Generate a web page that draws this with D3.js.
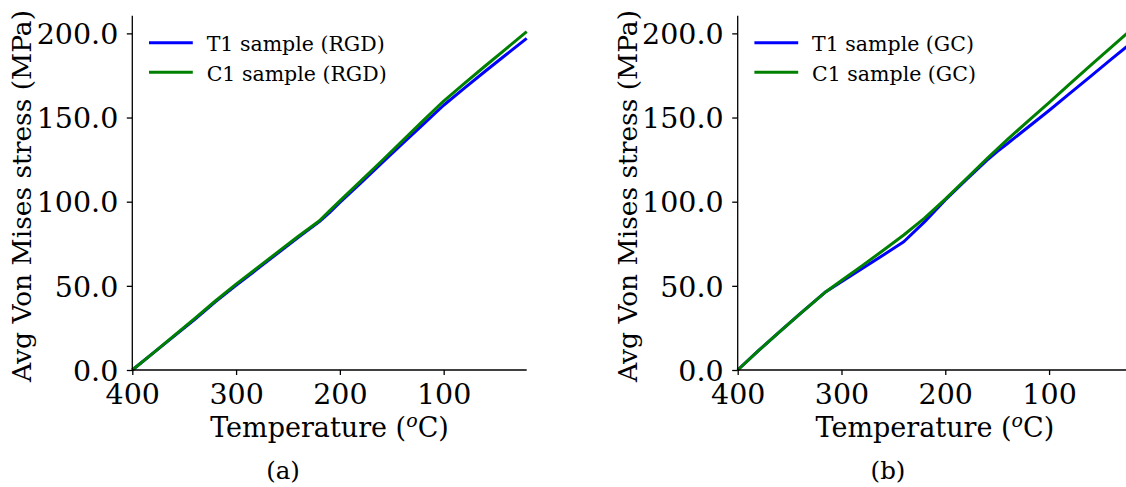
<!DOCTYPE html>
<html>
<head>
<meta charset="utf-8">
<script src="https://cdn.jsdelivr.net/npm/d3@7"></script>
<style>
  html, body { margin: 0; padding: 0; background: #fff; }
  svg { display: block; }
  text { font-family: "DejaVu Serif", serif; fill: #000; }
</style>
</head>
<body>
<svg id="chart" width="1126" height="487"></svg>
<script>
// Temperatures (°C) at which stresses were read
const tempsA = [400, 380, 360, 340, 320, 300, 280, 260, 240, 220, 210, 200, 180, 160, 140, 120, 100, 80, 60, 40, 20];
// Panel (a): RGD
const t1RGD = [0, 10, 20, 30, 40.5, 50.3, 59.8, 69.3, 78.8, 88, 93.5, 99.5, 111, 122.7, 134.3, 145.8, 157.3, 167.5, 177.5, 187.3, 197];
const c1RGD = [0, 10, 20.3, 30.5, 41, 51, 60.5, 70, 79.5, 88.5, 94.5, 100.5, 112.2, 124, 136, 148, 159.8, 170.3, 180.6, 190.8, 201];

const tempsB = [400, 380, 360, 340, 315, 300, 280, 260, 240, 220, 200, 180, 160, 150, 140, 120, 100, 80, 60, 40, 20];
// Panel (b): GC
const t1GC = [0, 11.5, 22.5, 33.3, 46.5, 52.4, 60.3, 68.2, 76.2, 88, 101, 113, 124.5, 129.8, 134.6, 144.4, 154.2, 164.3, 174.5, 184.7, 194.7];
const c1GC = [0, 11.5, 22.5, 33.3, 46.5, 53.2, 62, 71, 80.2, 90.2, 101.5, 113.5, 125.5, 131.3, 137, 148, 158.9, 170, 181, 191.8, 202.7];

const xTicks = [400, 300, 200, 100];
const yTicks = [0, 50, 100, 150, 200];
const xDomain = [400, 20];
const yDomain = [0, 210.5];

const panels = [
  { temps: tempsA, s1: t1RGD, s2: c1RGD, names: ["T1 sample (RGD)", "C1 sample (RGD)"], caption: "(a)", x0: 132.3, captionX: 283 },
  { temps: tempsB, s1: t1GC,  s2: c1GC,  names: ["T1 sample (GC)",  "C1 sample (GC)"],  caption: "(b)", x0: 737.7, captionX: 888 }
];
const colors = ["#0000ff", "#008000"];

const svg = d3.select("#chart");
const plotW = 394.4, yTop = 15.7, yBot = 370;

panels.forEach(p => {
  const g = svg.append("g");
  const x = d3.scaleLinear().domain(xDomain).range([p.x0, p.x0 + plotW]);
  const y = d3.scaleLinear().domain(yDomain).range([yBot, yTop]);

  // lines
  const line = d3.line().x(d => x(d[0])).y(d => y(d[1]));
  [p.s1, p.s2].forEach((s, i) => {
    g.append("path")
      .datum(p.temps.map((t, k) => [t, s[k]]))
      .attr("d", line)
      .attr("fill", "none")
      .attr("stroke", colors[i])
      .attr("stroke-width", 3)
      .attr("stroke-linejoin", "round");
  });

  // axes
  const xAxis = d3.axisBottom(x).tickValues(xTicks).tickFormat(d3.format("d")).tickSize(5).tickPadding(5);
  const yAxis = d3.axisLeft(y).tickValues(yTicks).tickFormat(d3.format(".1f")).tickSize(5.5).tickPadding(8.5);
  const gx = g.append("g").attr("transform", `translate(0,${yBot})`).call(xAxis);
  const gy = g.append("g").attr("transform", `translate(${p.x0},0)`).call(yAxis);
  [gx, gy].forEach(a => {
    a.select(".domain").attr("stroke", "#000").attr("stroke-width", 1.3);
    a.selectAll(".tick line").attr("stroke", "#000").attr("stroke-width", 1.3);
    a.selectAll(".tick text").attr("font-family", "DejaVu Serif").attr("font-size", 28.5).attr("fill", "#000");
  });
  gx.select(".domain").attr("d", `M${p.x0},0H${p.x0 + plotW}`);
  gy.select(".domain").attr("d", `M0,${yBot}V${yTop}`);
  gx.selectAll(".tick text").attr("y", 33.5).attr("dy", 0);
  gy.selectAll(".tick text").attr("dy", "0.36em");

  // axis labels
  const xl = g.append("text")
    .attr("x", p.x0 + plotW / 2).attr("y", 436.5)
    .attr("text-anchor", "middle").attr("font-size", 27);
  xl.append("tspan").text("Temperature (");
  xl.append("tspan").attr("font-style", "italic").attr("font-size", 19).attr("dy", -10).text("o");
  xl.append("tspan").attr("dy", 10).text("C)");

  g.append("text")
    .attr("transform", `translate(${p.x0 - 101},${196}) rotate(-90)`)
    .attr("text-anchor", "middle").attr("font-size", 26.5)
    .text("Avg Von Mises stress (MPa)");

  // legend
  p.names.forEach((n, i) => {
    const ly = 42.7 + i * 29.6;
    g.append("line")
      .attr("x1", p.x0 + 16.7).attr("x2", p.x0 + 60.5)
      .attr("y1", ly).attr("y2", ly)
      .attr("stroke", colors[i]).attr("stroke-width", 3);
    g.append("text")
      .attr("x", p.x0 + 74.4).attr("y", ly + 8.5)
      .attr("font-size", 20.5).text(n);
  });

  // caption
  g.append("text")
    .attr("x", p.captionX).attr("y", 479)
    .attr("text-anchor", "middle").attr("font-size", 24.5)
    .text(p.caption);
});
</script>
</body>
</html>
